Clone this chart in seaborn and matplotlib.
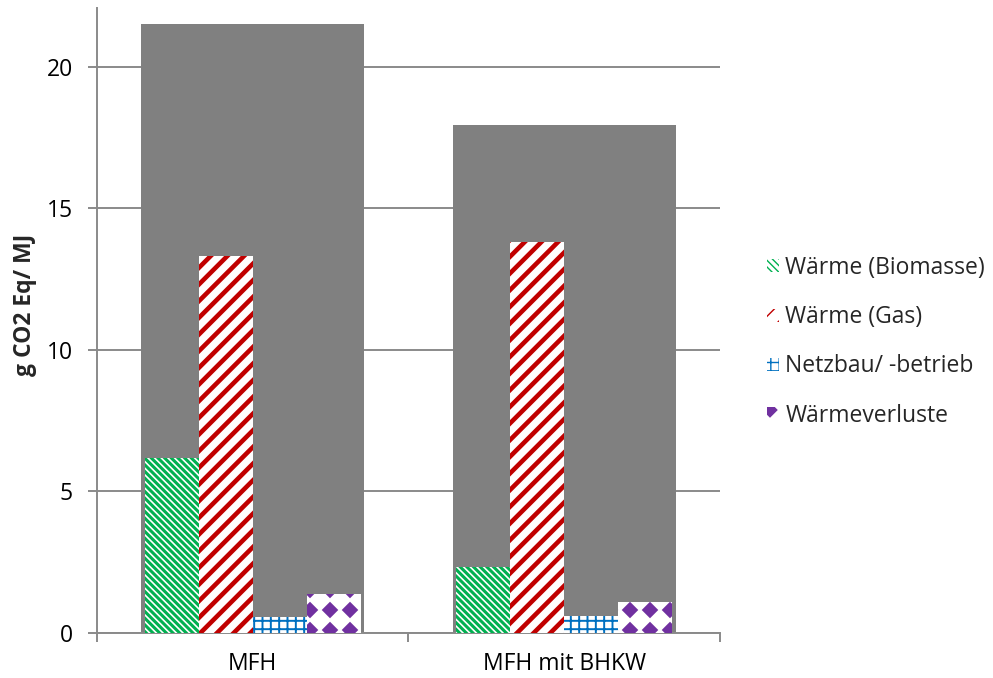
import matplotlib
matplotlib.use("Agg")
import matplotlib.pyplot as plt
import matplotlib.hatch as mhatch
from matplotlib.path import Path
from matplotlib.patches import Patch
import numpy as np
import pandas as pd
import seaborn as sns

# Data
categories = ["MFH", "MFH mit BHKW"]
series = ["Wärme (Biomasse)", "Wärme (Gas)", "Netzbau/ -betrieb", "Wärmeverluste"]
biomasse = [6.19, 2.33]
gas = [13.32, 13.83]
netz = [0.55, 0.61]
verluste = [1.38, 1.11]
gesamt = [21.52, 17.96]

colors = ["#00B050", "#C00000", "#0070C0", "#7030A0"]
hatches = ["\\\\\\\\\\", "//", "++", "o"]
hatch_lw = [2.2, 3.3, 1.4, 1.5]


class DiamondGrid(mhatch.HatchPatternBase):
    """Filled diamonds on an axis-aligned square grid (used for the 'o' symbol)."""

    def __init__(self, hatch, density):
        self.n = hatch.count("o") * 5
        self.num_vertices = self.n * self.n * 5

    def set_vertices_and_codes(self, vertices, codes):
        r = 0.068
        shape = np.array([[0, -r], [r, 0], [0, r], [-r, 0], [0, -r]])
        scodes = [Path.MOVETO, Path.LINETO, Path.LINETO, Path.LINETO, Path.CLOSEPOLY]
        i = 0
        for a in range(self.n):
            for b in range(self.n):
                cx = (a + 0.5) / self.n
                cy = (b + 0.5) / self.n
                vertices[i:i + 5] = shape + [cx, cy]
                codes[i:i + 5] = scodes
                i += 5


mhatch._hatch_types[mhatch._hatch_types.index(mhatch.SmallCircles)] = DiamondGrid

sns.set_theme(style="white")
plt.rcParams["font.family"] = ["Open Sans", "DejaVu Sans"]
FS = 16.5

fig = plt.figure(figsize=(9.93, 6.78), dpi=100)
ax = fig.add_axes([0.0977, 0.0664, 0.6273, 0.9216])

# Total bar drawn behind the components
df_tot = pd.DataFrame({"cat": categories, "val": gesamt})
sns.barplot(data=df_tot, x="cat", y="val", color="#808080", saturation=1,
            width=0.716, ax=ax, zorder=2)
for p in ax.containers[0]:
    p.set_linewidth(0)

# Component bars
rows = []
for s, vals in zip(series, [biomasse, gas, netz, verluste]):
    for c, v in zip(categories, vals):
        rows.append({"cat": c, "series": s, "val": v})
df = pd.DataFrame(rows)
sns.barplot(data=df, x="cat", y="val", hue="series", hue_order=series,
            palette=colors, saturation=1, width=0.694, gap=0, dodge=True,
            legend=False, ax=ax, zorder=3)


def style_patch(p, i):
    p.set_facecolor("white")
    p.set_edgecolor(colors[i])
    p.set_hatch(hatches[i])
    p.set_linewidth(0)
    if hasattr(p, "set_hatch_linewidth"):
        p.set_hatch_linewidth(hatch_lw[i])


for i, cont in enumerate(ax.containers[1:]):
    for p in cont:
        style_patch(p, i)

# Axes styling
ax.set_xlim(-0.5, 1.5)
ax.set_ylim(0, 22.08)
ax.set_yticks([0, 5, 10, 15, 20])
ax.yaxis.grid(True, color="#8a8a8a", linewidth=1.4, zorder=0)
ax.set_axisbelow(True)
for side in ["top", "right"]:
    ax.spines[side].set_visible(False)
for side in ["left", "bottom"]:
    ax.spines[side].set_color("#8a8a8a")
    ax.spines[side].set_linewidth(1.4)
ax.tick_params(axis="y", which="major", length=6.5, width=1.4, color="#8a8a8a",
               labelsize=FS, pad=11, left=True, labelcolor="black")
ax.tick_params(axis="x", which="major", length=0, labelsize=FS, pad=14,
               labelcolor="black")
ax.set_xticks([-0.5, 0.5, 1.5], minor=True)
ax.tick_params(axis="x", which="minor", length=6.5, width=1.4, color="#8a8a8a",
               bottom=True)
ax.set_xlabel("")
ax.set_ylabel("g CO2 Eq/ MJ", fontsize=FS, fontweight="bold")
ax.yaxis.set_label_coords(-0.096, 0.525)

# Legend
handles = []
for i, s in enumerate(series):
    h = Patch(label=s, linewidth=0)
    style_patch(h, i)
    handles.append(h)
leg = ax.legend(handles=handles, loc="center left", bbox_to_anchor=(1.061, 0.466),
                borderaxespad=0, frameon=False, fontsize=FS, handlelength=0.5,
                handleheight=0.5, handletextpad=0.3, labelspacing=1.1)

fig.savefig("out.png", dpi=100)
